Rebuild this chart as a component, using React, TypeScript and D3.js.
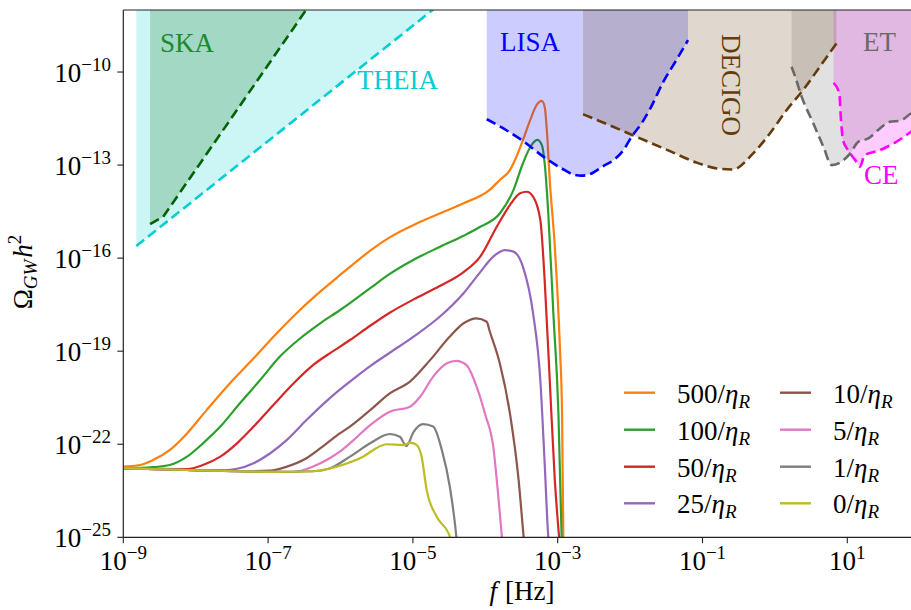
import React from 'react';
import * as d3 from 'd3';

// Tick exponents
const xTickExps = [-9, -7, -5, -3, -1, 1];
const yTickExps = [-25, -22, -19, -16, -13, -10];

// Series: [log10 f, log10 Omega h^2]
const s500: [number, number][] = [
  [-9.0, -22.72], [-8.77, -22.67], [-8.59, -22.51], [-8.36, -22.19], [-8.12, -21.65], [-7.85, -20.9],
  [-7.53, -20.04], [-7.2, -19.23], [-6.88, -18.42], [-6.56, -17.67], [-6.28, -17.08], [-6.01, -16.55],
  [-5.87, -16.28], [-5.59, -15.76], [-5.32, -15.33], [-4.99, -14.93], [-4.63, -14.56], [-4.3, -14.23],
  [-3.94, -13.8], [-3.8, -13.48], [-3.66, -13.16], [-3.57, -12.73], [-3.48, -12.19], [-3.38, -11.55],
  [-3.29, -11.06], [-3.22, -10.93], [-3.18, -11.12], [-3.15, -11.87], [-3.11, -13.48], [-3.04, -15.63],
  [-2.97, -18.86], [-2.94, -21.0], [-2.92, -25.5],
];
const s100: [number, number][] = [
  [-9.0, -22.78], [-8.59, -22.74], [-8.36, -22.67], [-8.12, -22.4], [-7.9, -21.97], [-7.66, -21.43],
  [-7.39, -20.68], [-7.11, -19.93], [-6.84, -19.18], [-6.56, -18.59], [-6.28, -18.1], [-6.01, -17.68],
  [-5.87, -17.45], [-5.59, -16.97], [-5.32, -16.51], [-4.99, -16.05], [-4.63, -15.64], [-4.3, -15.28],
  [-4.07, -14.99], [-3.8, -14.56], [-3.61, -13.8], [-3.48, -12.94], [-3.36, -12.35], [-3.28, -12.19],
  [-3.22, -12.35], [-3.18, -12.94], [-3.13, -14.56], [-3.06, -17.78], [-2.99, -21.0], [-2.94, -25.5],
];
const s50: [number, number][] = [
  [-9.0, -22.78], [-8.12, -22.8], [-7.9, -22.67], [-7.66, -22.4], [-7.43, -21.97], [-7.2, -21.43],
  [-6.93, -20.74], [-6.65, -20.04], [-6.38, -19.45], [-6.15, -19.07], [-6.01, -18.86], [-5.87, -18.64],
  [-5.59, -18.18], [-5.32, -17.76], [-4.99, -17.33], [-4.63, -16.9], [-4.3, -16.45], [-4.07, -15.95],
  [-3.84, -14.98], [-3.66, -14.29], [-3.52, -13.91], [-3.43, -13.86], [-3.34, -14.02], [-3.24, -14.77],
  [-3.18, -16.71], [-3.11, -19.93], [-3.04, -23.15], [-2.98, -25.0], [-2.96, -25.5],
];
const s25: [number, number][] = [
  [-9.0, -22.77], [-8.12, -22.83], [-7.66, -22.84], [-7.43, -22.79], [-7.2, -22.61], [-6.97, -22.29],
  [-6.74, -21.86], [-6.47, -21.22], [-6.19, -20.6], [-6.01, -20.24], [-5.87, -19.98], [-5.59, -19.48],
  [-5.32, -19.05], [-4.99, -18.53], [-4.63, -17.89], [-4.3, -17.13], [-4.07, -16.45], [-3.89, -15.95],
  [-3.73, -15.74], [-3.61, -15.79], [-3.48, -16.28], [-3.34, -17.78], [-3.24, -19.93], [-3.18, -22.61],
  [-3.13, -25.0], [-3.11, -25.5],
];
const s10: [number, number][] = [
  [-9.0, -22.77], [-8.12, -22.83], [-7.43, -22.87], [-6.97, -22.85], [-6.74, -22.72], [-6.47, -22.45],
  [-6.19, -21.97], [-6.01, -21.65], [-5.87, -21.43], [-5.59, -20.9], [-5.32, -20.36], [-5.04, -19.98],
  [-4.76, -19.28], [-4.49, -18.53], [-4.3, -18.1], [-4.12, -17.94], [-3.98, -18.05], [-3.94, -18.35],
  [-3.8, -19.39], [-3.66, -21.0], [-3.54, -23.15], [-3.47, -25.0], [-3.45, -25.5],
];
const s5: [number, number][] = [
  [-9.0, -22.77], [-8.12, -22.83], [-7.43, -22.87], [-6.93, -22.89], [-6.65, -22.89], [-6.38, -22.72],
  [-6.15, -22.45], [-6.01, -22.24], [-5.87, -21.97], [-5.59, -21.38], [-5.32, -20.95], [-5.04, -20.79],
  [-4.9, -20.47], [-4.72, -19.82], [-4.53, -19.39], [-4.4, -19.31], [-4.26, -19.45], [-4.12, -20.14],
  [-4.0, -21.05], [-3.89, -22.08], [-3.82, -23.69], [-3.77, -25.0], [-3.75, -25.5],
];
const s1: [number, number][] = [
  [-9.0, -22.77], [-8.12, -22.83], [-7.43, -22.87], [-6.93, -22.89], [-6.38, -22.87], [-6.15, -22.78],
  [-5.87, -22.4], [-5.59, -21.97], [-5.32, -21.67], [-5.18, -21.76], [-5.09, -22.06], [-4.99, -21.6],
  [-4.86, -21.35], [-4.72, -21.43], [-4.6, -22.19], [-4.49, -23.37], [-4.4, -24.98], [-4.38, -25.5],
];
const s0: [number, number][] = [
  [-9.0, -22.77], [-8.12, -22.83], [-7.43, -22.87], [-6.93, -22.89], [-6.38, -22.87], [-6.15, -22.78],
  [-5.73, -22.45], [-5.36, -22.0], [-5.13, -22.03], [-5.04, -21.95], [-4.95, -22.02], [-4.88, -22.4],
  [-4.81, -23.47], [-4.67, -24.34], [-4.49, -24.98], [-4.45, -25.3],
];

const seriesData = [s500, s100, s50, s25, s10, s5, s1, s0];
const seriesLabels = ['500', '100', '50', '25', '10', '5', '1', '0'];
const seriesColors = ['#ff7f0e', '#2ca02c', '#d62728', '#9467bd', '#8c564b', '#e377c2', '#7f7f7f', '#bcbd22'];

// Detector sensitivity curves: [log10 f, log10 Omega h^2]
const theiaCurve: [number, number][] = [[-8.82, -15.61], [-4.6, -7.76]];
const skaCurve: [number, number][] = [[-8.63, -14.9], [-8.45, -14.67], [-6.42, -7.81]];
const lisaCurve: [number, number][] = [
  [-3.98, -11.52], [-3.75, -11.82], [-3.5, -12.19], [-3.15, -12.81], [-2.95, -13.1], [-2.76, -13.32],
  [-2.67, -13.34], [-2.55, -13.29], [-2.37, -13.03], [-2.23, -12.84], [-2.09, -12.51], [-1.98, -12.09],
  [-1.84, -11.65], [-1.72, -11.17], [-1.54, -10.31], [-1.36, -9.61], [-1.2, -8.97],
];
const decigoCurve: [number, number][] = [
  [-2.65, -11.36], [-2.32, -11.68], [-1.91, -12.09], [-1.49, -12.51], [-1.08, -12.92], [-0.8, -13.11],
  [-0.58, -13.14], [-0.3, -12.62], [-0.07, -11.98], [0.16, -11.23], [0.39, -10.58], [0.62, -9.83], [0.85, -9.08],
];
const etCurve: [number, number][] = [
  [0.23, -9.83], [0.28, -10.15], [0.37, -10.8], [0.53, -11.65], [0.67, -12.41], [0.785, -13.0],
  [1.04, -12.62], [1.15, -12.25], [1.29, -12.14], [1.45, -11.82], [1.59, -11.6], [1.73, -11.57],
  [1.88, -11.33], [2.05, -11.1],
];
const ceCurve: [number, number][] = [
  [0.81, -10.35], [0.89, -10.69], [0.91, -11.44], [0.94, -12.19], [1.01, -12.52], [1.11, -12.84],
  [1.175, -13.05], [1.24, -12.68], [1.45, -12.52], [1.64, -12.3], [1.88, -11.93], [2.05, -11.65],
];

const detectors = [
  { name: 'THEIA', pts: theiaCurve, color: '#00ced1', curved: false },
  { name: 'SKA', pts: skaCurve, color: '#006400', curved: false },
  { name: 'CE', pts: ceCurve, color: '#ff00ff', curved: true },
  { name: 'ET', pts: etCurve, color: '#696969', curved: true },
  { name: 'LISA', pts: lisaCurve, color: '#0000ff', curved: true },
  { name: 'DECIGO', pts: decigoCurve, color: '#643c0a', curved: true },
];

const W = 911;
const H = 610;
const L = 123.3;
const T = 10;
const B = 537.3;
const Rfull = 919.7;
const FONT = "'Liberation Serif', 'DejaVu Serif', serif";

export default function App() {
  const x = d3.scaleLog().domain([1e-9, 1e2]).range([L, Rfull]);
  const y = d3.scaleLog().domain([1e-25, 1e-8]).range([B, T]);
  const px = (p: [number, number]) => x(Math.pow(10, p[0]));
  const py = (p: [number, number]) => y(Math.pow(10, p[1]));

  const curveLine = d3.line<[number, number]>().x(px).y(py).curve(d3.curveMonotoneX);
  const straightLine = d3.line<[number, number]>().x(px).y(py);

  const fillPath = (pts: [number, number][], curved: boolean) => {
    const g = curved ? curveLine : straightLine;
    const first = pts[0];
    const last = pts[pts.length - 1];
    return `M${px(first)},${-20}L` + (g(pts) as string).slice(1) + `L${px(last)},${-20}Z`;
  };

  const legendRows = [392.7, 429.7, 466.7, 503.3];
  const legendCols = [624, 780];
  const expLabel = (e: number) => (e < 0 ? '\u2212' : '') + Math.abs(e);

  return (
    <svg
      width={W}
      height={H}
      style={{ position: 'absolute', left: 0, top: 0, background: '#fff', fontFamily: FONT }}
    >
      <defs>
        <clipPath id="plotclip">
          <rect x={L} y={T} width={Rfull - L} height={B - T} />
        </clipPath>
      </defs>
      <rect x={0} y={0} width={W} height={H} fill="#fff" />

      <g clipPath="url(#plotclip)">
        {seriesData.map((d, i) => (
          <path key={i} d={curveLine(d) as string} fill="none" stroke={seriesColors[i]} strokeWidth={2.2} />
        ))}
        {detectors.map((det) => (
          <path key={det.name + 'f'} d={fillPath(det.pts, det.curved)} fill={det.color} fillOpacity={0.2} stroke="none" />
        ))}
        {detectors.map((det) => (
          <path
            key={det.name + 'l'}
            d={(det.curved ? curveLine : straightLine)(det.pts) as string}
            fill="none"
            stroke={det.color}
            strokeWidth={2.6}
            strokeDasharray="10 5"
          />
        ))}
      </g>

      {/* detector labels */}
      <text x={160} y={51.7} fontSize={27} fill="#1a8a2a">SKA</text>
      <text x={357} y={89} fontSize={27} fill="#00ced1">THEIA</text>
      <text x={500} y={50.7} fontSize={27} fill="#0000ff">LISA</text>
      <text transform="translate(722,85) rotate(90)" textAnchor="middle" fontSize={27} fill="#643c0a">DECIGO</text>
      <text x={863} y={50.7} fontSize={27} fill="#696969">ET</text>
      <text x={864} y={184} fontSize={27} fill="#ff00ff">CE</text>

      {/* spines */}
      <line x1={L} y1={T} x2={W} y2={T} stroke="#222" strokeWidth={1.2} />
      <line x1={L} y1={T} x2={L} y2={B} stroke="#222" strokeWidth={1.2} />
      <line x1={L} y1={B} x2={W} y2={B} stroke="#222" strokeWidth={1.2} />

      {/* x ticks */}
      {xTickExps.map((e) => {
        const xx = x(Math.pow(10, e));
        return (
          <g key={'xt' + e}>
            <line x1={xx} y1={B} x2={xx} y2={B + 6} stroke="#222" strokeWidth={1.1} />
            <text x={xx} y={570} textAnchor="middle" fontSize={27}>
              10<tspan fontSize={19} dy={-11}>{expLabel(e)}</tspan>
            </text>
          </g>
        );
      })}
      {/* y ticks */}
      {yTickExps.map((e) => {
        const yy = y(Math.pow(10, e));
        return (
          <g key={'yt' + e}>
            <line x1={L - 6} y1={yy} x2={L} y2={yy} stroke="#222" strokeWidth={1.1} />
            <text x={111} y={yy + 9.5} textAnchor="end" fontSize={27}>
              10<tspan fontSize={19} dy={-11}>{expLabel(e)}</tspan>
            </text>
          </g>
        );
      })}

      {/* axis labels */}
      <text x={522} y={600} textAnchor="middle" fontSize={27}>
        <tspan fontStyle="italic">f</tspan>
        <tspan dx={8}>[Hz]</tspan>
      </text>
      <text transform="translate(32,272) rotate(-90)" textAnchor="middle" fontSize={27}>
        Ω<tspan fontStyle="italic" fontSize={19} dy={5}>GW</tspan>
        <tspan fontStyle="italic" dy={-5} dx={2}>h</tspan>
        <tspan fontSize={19} dy={-11}>2</tspan>
      </text>

      {/* legend */}
      {seriesLabels.map((lab, i) => {
        const col = Math.floor(i / 4);
        const row = i % 4;
        const lx = legendCols[col];
        const ly = legendRows[row];
        return (
          <g key={'lg' + i}>
            <line x1={lx} y1={ly} x2={lx + 31} y2={ly} stroke={seriesColors[i]} strokeWidth={2.4} />
            <text x={lx + 53} y={ly + 10} fontSize={27}>
              {lab}/<tspan fontStyle="italic">η</tspan>
              <tspan fontStyle="italic" fontSize={19} dy={5}>R</tspan>
            </text>
          </g>
        );
      })}
    </svg>
  );
}
